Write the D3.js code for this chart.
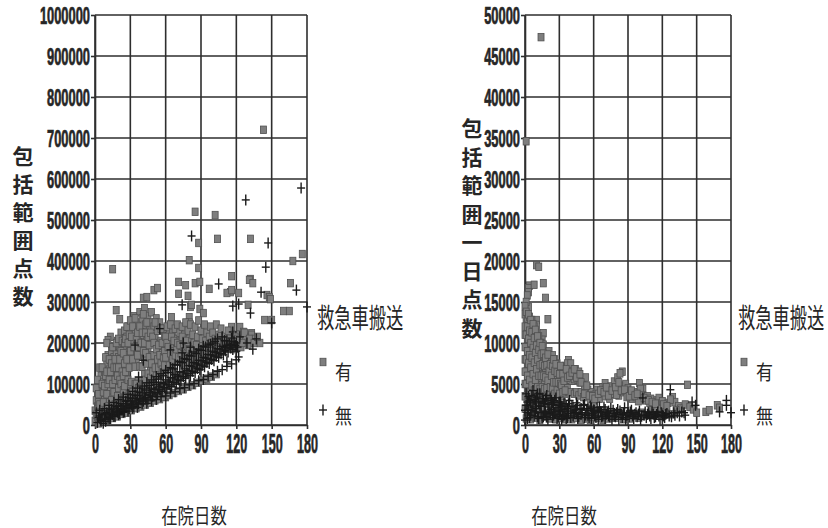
<!DOCTYPE html>
<html><head><meta charset="utf-8">
<script src="https://cdn.jsdelivr.net/npm/d3@7/dist/d3.min.js"></script>
<style>
body{margin:0;background:#fff;}
svg{display:block;}
.num{font-family:"Liberation Sans",Arial,sans-serif;font-weight:bold;fill:#262626;stroke:#262626;stroke-width:0.7px;}
.jp{font-family:"Noto Sans CJK JP",sans-serif;fill:#262626;}
</style></head><body>
<svg id="chart" width="828" height="528"></svg>
<script>
// ---------------- DATA ----------------
const xTicks = [0, 30, 60, 90, 120, 150, 180];
const yTicksTotal = [0,100000,200000,300000,400000,500000,600000,700000,800000,900000,1000000];
const yTicksDaily = [0,5000,10000,15000,20000,25000,30000,35000,40000,45000,50000];
const xTitle = "在院日数";
const yTitleTotal = "包括範囲点数";
const yTitleDaily = "包括範囲一日点数";
const legendTitle = "救急車搬送";
const seriesNames = ["有", "無"];

// Left chart: [在院日数, 包括範囲点数 (thousands)]
const yesTotalK = [
 [143,720],[85,520],[102,512],[88,444],[104,454],[132,454],[176,417],[168,400],[80,402],[15,380],[88,383],
 [116,363],[132,356],[71,349],[77,341],[85,346],[89,349],[97,332],[115,324],[112,322],[116,329],[131,354],
 [134,346],[146,317],[148,312],[149,307],[166,346],[71,320],[79,315],[41,310],[44,312],[50,329],[53,334],
 [130,293],[144,256],[150,256],[160,278],[165,278],[18,280],[21,258],[65,263],[80,263],[80,250],[13,215],
 [11,207],[10,200],[7,139],[122,322],[89,283],[92,273],[81,288],[82,293],[116,239],[123,239],[126,227],[133,224],
 [0,10],[0,35],[1,60],[1,25],[2,80],[2,45],[3,15],[3,100],[4,65],[4,30],[5,120],[5,90],[5,50],[6,20],[6,75],
 [7,105],[8,60],[8,130],[9,95],[9,40],[10,150],[10,115],[11,75],[11,170],[12,135],[12,55],[13,158],[13,95],
 [14,120],[14,180],[15,70],[15,150],[16,165],[16,105],[17,190],[17,130],[18,85],[18,175],[19,145],[19,205],
 [20,110],[20,165],[21,190],[22,135],[22,225],[23,175],[23,95],[24,200],[24,150],[25,120],[25,230],[26,185],
 [26,160],[27,215],[27,105],[28,240],[28,170],[29,195],[30,148],[30,225],[31,250],[31,180],[32,205],[33,163],
 [33,265],[34,230],[35,190],[35,152],[36,250],[37,210],[38,275],[38,170],[39,235],[40,195],[40,260],[41,220],
 [42,160],[42,285],[43,245],[44,205],[45,265],[45,180],[46,230],[47,250],[48,200],[48,275],[49,170],[50,240],
 [51,215],[52,260],[53,190],[54,230],[55,250],[56,205],[57,175],[58,235],[59,215],[60,190],[61,240],[62,160],
 [63,220],[64,245],[65,195],[66,225],[67,180],[68,235],[69,210],[70,245],[71,190],[72,225],[73,205],[74,240],
 [75,175],[76,220],[77,250],[78,195],[79,230],[80,210],[81,245],[82,185],[83,220],[84,200],[85,240],[86,175],
 [87,215],[88,255],[89,195],[90,230],[91,210],[92,185],[93,245],[94,205],[95,225],[96,190],[97,215],[98,240],
 [99,200],[100,225],[101,185],[102,210],[103,245],[104,195],[105,220],[106,205],[107,235],[108,190],[110,215],
 [112,200],[113,230],[115,195],[117,210],[118,185],[120,200],[122,220],[124,190],[126,205],[128,215],[130,195],
 [133,220],[136,210],[140,200],
 [5,8],[8,12],[10,15],[12,20],[15,22],[18,28],[20,30],[22,35],[25,38],[28,42],[30,48],[33,50],[35,55],[38,60],
 [40,62],[43,68],[45,72],[48,75],[50,80],[53,82],[55,88],[58,92],[60,95],[63,100],[65,105],[68,108],[70,112],
 [73,118],[75,122],[78,125],[80,130],[83,135],[85,140],[88,142],[90,148],[93,152],[95,158],[98,162],[100,168],
 [103,172],[105,178],[108,182],[110,188],[113,192],[115,195],[118,200],[120,205],[60,68],
 [30,70],[32,95],[35,80],[37,108],[40,90],[42,125],[45,100],[47,140],[50,115],[52,150],[55,125],[57,160],
 [60,135],[62,170],[65,150],[67,130],[70,160],[72,175],[75,150],[77,185],[80,165],[82,155],[85,180],[87,165],
 [90,175],[92,160],[95,185],[97,175],[100,190],[102,180],[10,45],[12,85],[15,40],[18,110],[20,60],[22,80],
 [25,65],[27,130],[28,90],[24,50],[16,30],[6,40],[3,55],
 [1,90],[2,20],[2,110],[3,75],[4,140],[4,50],[5,30],[6,100],[6,140],[7,55],[7,80],[8,25],[8,95],[9,120],
 [9,165],[10,75],[10,130],[11,45],[11,100],[12,110],[12,160],[13,30],[13,130],[14,60],[14,150],[15,100],
 [15,190],[16,80],[16,140],[17,50],[17,110],[17,160],[18,140],[18,200],[19,70],[19,120],[20,90],[20,140],
 [20,210],[21,50],[21,110],[21,160],[22,100],[22,180],[23,60],[23,130],[23,205],[24,85],[24,120],[24,175],
 [25,95],[25,150],[25,200],[26,70],[26,130],[26,210],[27,160],[27,240],[28,110],[28,200],[29,75],[29,140],
 [29,220],[30,100],[30,180],[30,255],[31,105],[31,215],[32,80],[32,160],[32,240],[33,190],[34,100],[34,142],
 [34,260],[35,210],[35,100],[36,170],[36,225],[37,90],[37,190],[38,143],[38,240],[39,200],[40,142],
 [40,225],[41,100],[41,180],[41,270],[42,200],[43,110],[43,175],[43,225],[44,150],[44,250],[45,125],[45,215],
 [46,165],[46,195],[47,115],[47,225],[48,150],[49,130],[49,215],[50,170],[50,200],[51,140],[51,250],[52,120],
 [52,185],[53,160],[53,230],[54,140],[54,195],[55,170],[56,150],[56,235],[57,135],[57,200],[58,165],[59,180],
 [59,145],[60,165],[60,215],[61,200],[62,190],[63,145],[64,175],[65,215],[66,160],[67,205],[68,170],[69,185],
 [70,200],[71,165],[72,195],[73,175],[74,215],[75,190],[76,165],[77,205],[78,175],[79,190],[80,185],[81,165],
 [83,180],[84,165],[86,195],[88,175],[89,165],[91,180],[93,175],[94,190],[96,170],[99,180],[101,200],[104,185],
 [106,190],[109,200],[111,205],[114,210],[116,200],[119,215],[121,210],[125,200],[127,225],[131,210],[135,200],
 [138,215],
 [3,4],[7,9],[11,12],[15,17],[19,21],[23,27],[27,30],[31,36],[35,41],[39,45],[43,50],[47,54],[51,60],[55,63],
 [59,69],[63,73],[67,78],[71,83],[75,87],[79,93],[83,97],[87,103],[91,108],[95,113],[99,118],[103,124]
];
const noTotalK = [
 [128,549],[175,578],[82,461],[147,444],[145,385],[105,344],[141,324],[171,329],[74,293],[117,290],[122,295],
 [132,273],[150,249],[180,288],[137,210],[123,215],[129,200],[134,185],[122,166],[117,227],[112,154],
 [55,235],[75,200],[34,195],[64,183],[37,117],[41,158],[74,176],[81,190],
 [2,6],[3,18],[5,10],[6,25],[7,4],[9,14],[10,30],[11,19],[13,16],[14,38],[15,26],[17,22],[18,45],[19,31],
 [21,28],[22,52],[23,37],[25,33],[26,58],[27,43],[29,40],[30,66],[31,49],[33,45],[34,73],[35,56],[37,52],
 [38,80],[39,61],[41,58],[42,88],[43,67],[45,63],[46,96],[47,73],[49,70],[50,104],[51,79],[53,76],[54,112],
 [55,86],[57,82],[58,120],[59,91],[61,88],[62,128],[63,98],[65,94],[66,137],[67,104],[69,100],[70,146],
 [71,110],[73,108],[74,152],[75,118],[77,114],[78,160],[79,125],[81,120],[82,168],[83,131],[85,128],[86,174],
 [87,138],[89,135],[90,182],[91,146],[93,142],[94,190],[95,153],[97,150],[98,197],[99,160],[101,157],
 [102,204],[103,168],[105,165],[107,174],[109,171],[110,206],[111,181],[113,178],[115,188],[117,184],
 [119,194],[121,190],
 [1,30],[4,36],[8,40],[12,48],[16,55],[20,62],[24,68],[28,75],[32,82],[36,90],[40,95],[44,103],[48,110],
 [52,118],[56,125],[60,133],[64,140],[68,147],[72,155],[76,162],[80,170],[84,178],[88,185],[92,192],[96,195],
 [100,200],[104,210],[108,215],[112,205],[116,212],[120,200],[4,22],[8,28],[12,34],[16,41],[20,47],[24,52],
 [28,60],[32,65],[36,72],[40,78],[44,85],[48,90],[52,98],[56,104],[60,110],[64,116],[68,123],[72,130],
 [76,137],[80,145],[84,152],[88,158],[92,165],[96,172],[100,180],[104,186],[108,192],[112,194],[116,196],[120,180],
 [5,12],[9,9],[12,15],[16,21],[20,25],[24,31],[28,34],[32,41],[36,43],[40,51],[44,53],[48,59],[52,62],[56,69],
 [60,71],[64,78],[68,81],[72,89],[76,91],[80,98],[84,101],[88,108],[92,111],[96,119],[100,123],[104,131],
 [108,135],[112,143],[116,149],[120,159],
 [14,27],[18,34],[22,39],[26,47],[30,51],[34,59],[38,65],[42,73],[46,79],[50,87],[54,93],[58,101],[62,105],
 [66,115],[70,119],[74,129],[78,133],[82,143],[86,149],[90,157],[94,163],[98,171],[102,177],[106,185],
 [110,189],[114,197],[118,203]
];

// Right chart: [在院日数, 包括範囲一日点数]
const yesDaily = [
 [14,47300],[1,34600],[10,19500],[12,19300],[4,17000],[3,16700],[8,17100],[16,17300],[18,15500],[20,12900],
 [3,16200],[2,15800],[3,14400],[10,12800],[10,12200],[16,11200],[15,10400],[38,7900],[85,6500],[100,5100],
 [142,4900],[158,1600],[161,1800],[168,2400],[170,2100],[129,3400],[131,2800],[115,3000],[117,3300],[103,4400],
 [0,2000],[0,5000],[0,8000],[0,11000],[0,13500],[1,3500],[1,6500],[1,9500],[1,12500],[1,15000],[2,1200],
 [2,4500],[2,7500],[2,10500],[2,13000],[3,2500],[3,6000],[3,9000],[3,12000],[4,4000],[4,7000],[4,10000],
 [4,13200],[5,1800],[5,5500],[5,8500],[5,11500],[6,3000],[6,6500],[6,9800],[6,12800],[7,4500],[7,7800],
 [7,11000],[8,2200],[8,6000],[8,9000],[8,12000],[9,3800],[9,7200],[9,10500],[10,5200],[10,8200],[10,11200],
 [11,2500],[11,6500],[11,9500],[12,4200],[12,7500],[12,10800],[13,3000],[13,5800],[13,8800],[14,4800],
 [14,7000],[14,10000],[15,2600],[15,6200],[15,8500],[16,4200],[16,7500],[16,9800],[17,3200],[17,5500],
 [17,8800],[18,4500],[18,7000],[19,2800],[19,6000],[19,8500],[20,3800],[20,7500],[21,5200],[21,9000],
 [22,3000],[22,6500],[22,8200],[23,4500],[23,7200],[24,5800],[24,8500],[25,3500],[25,6800],[26,5000],
 [26,8000],[27,4000],[27,6200],[28,5500],[28,7500],[29,3800],[29,6800],[30,5000],[30,7000],[31,4200],
 [31,6000],[32,3500],[32,6800],[33,5200],[34,4000],[34,6500],[35,5500],[35,7200],[36,3800],[36,6000],
 [37,4500],[37,7500],[38,5800],[39,4000],[39,6800],[40,7500],[41,5400],[42,6200],[43,3800],[43,5600],
 [44,6800],[45,4000],[46,5800],[47,3600],[47,6500],[48,5200],[49,4000],[50,5600],[51,3400],[52,4800],
 [53,5800],[54,3800],[55,4300],[57,3200],[58,4000],[60,3000],[62,3800],[63,4300],[65,3200],[67,3900],
 [68,4600],[70,3500],[70,5100],[72,4200],[74,3200],[75,4700],[77,3800],[78,5300],[80,4300],[81,5800],
 [82,3600],[83,6300],[84,4800],[86,4000],[88,5000],[89,3400],[90,4500],[92,3800],[94,3200],[95,4000],
 [97,3400],[99,2900],[101,4400],[103,3600],[105,3000],[107,3500],[109,2700],[110,3200],[112,2500],[119,2600],
 [120,2900],[122,2200],[125,2700],[127,3100],[134,2300],[136,2000],[140,2500],[144,2200],[147,1900],[150,1500],
 [1,800],[3,1400],[5,700],[7,1900],[9,900],[11,1500],[13,600],[15,1800],[17,1000],[19,1400],[21,800],
 [23,1700],[25,1100],[27,700],[29,1500],[31,900],[33,1200],[35,700],[37,1600],[39,1000],[41,700],[43,1300],
 [45,900],[47,1500],[49,600],[51,1100],[53,800],[55,1400],[57,600],[59,1000],[62,1500],[64,900],[66,1300],
 [68,600],[71,1100],[73,800],[76,1200],[79,900],[83,1400],[86,700],[89,1100],[92,800],[95,1300],[99,900],
 [102,1500],[106,1200],[110,1800],[113,1400],[118,1900],[123,1600],[128,1300],[132,1800],
 [0,3500],[0,6500],[0,9500],[0,12000],[0,14500],[1,5000],[1,8000],[1,11000],[1,13800],[2,3000],[2,6000],
 [2,9000],[2,12000],[3,4000],[3,7500],[3,10500],[3,13500],[4,2500],[4,5500],[4,8500],[4,11500],[5,4000],
 [5,7000],[5,10000],[5,12800],[6,4800],[6,8200],[6,11300],[7,3000],[7,6200],[7,9400],[7,12300],[8,4200],
 [8,7600],[8,10600],[9,5500],[9,8800],[9,11600],[10,3500],[10,6800],[10,9700],[11,4600],[11,8000],[11,10800],
 [12,2800],[12,6000],[12,9200],[13,4400],[13,7300],[13,10000],[14,3200],[14,6000],[14,8600],[15,4600],
 [15,7400],[15,9600],[16,3000],[16,6000],[16,8700],[17,4400],[17,7200],[18,3200],[18,5800],[18,8200],
 [19,4500],[19,7300],[20,5400],[20,8600],[21,3600],[21,6600],[22,4600],[22,7400],[23,3200],[23,6000],
 [24,4500],[24,7200],[25,5200],[25,8000],[26,3800],[26,6600],[27,5200],[27,7400],[28,4200],[28,6400],
 [29,5200],[30,3800],[30,6200],[31,5000],[31,7200],[32,4800],[33,4000],[33,6200],[34,5400],[35,4200],
 [36,6800],[37,5800],[39,6000],[41,6400],[43,6800],[45,5800],[48,6200],[49,5200],
 [52,3800],[54,4800],[56,3600],[59,3500],[61,3200],[64,3800],[66,4200],[69,4000],[71,4600],[73,3600],
 [76,4200],[79,4600],[80,3700],[82,5200],[84,4200],[87,4300],[91,3500],[93,4200],[96,3600],[98,3800],
 [104,3300],[108,3000],[111,2800],[114,2600],[121,2500],[124,2300]
];
const noDaily = [
 [0,600],[1,2400],[2,1500],[3,3500],[4,900],[5,2700],[6,1800],[7,4200],[8,1100],[9,2900],[10,2000],[11,3800],
 [12,800],[13,2300],[14,1500],[15,3200],[16,1000],[17,2600],[18,1700],[19,3600],[20,700],[21,2200],[22,1400],
 [23,3000],[24,900],[25,2500],[26,1600],[27,3300],[28,800],[29,2100],[30,1300],[31,2800],[32,700],[33,1900],
 [34,1200],[35,2600],[36,800],[37,2000],[38,1400],[39,3000],[40,900],[42,2200],[43,1500],[45,2700],[46,800],
 [48,1900],[49,1300],[51,2400],[52,900],[54,1800],[55,1200],[57,2300],[58,800],[60,1700],[61,1100],[63,2100],
 [64,700],[66,1600],[67,1000],[69,2200],[70,800],[72,1500],[73,1100],[75,2000],[76,700],[78,1400],[79,1000],
 [81,1900],[82,700],[84,1300],[85,900],[87,2100],[88,700],[90,1500],[91,1000],[93,1800],[95,800],[96,1300],
 [98,1000],[100,1700],[101,700],[103,3300],[104,1200],[106,900],[108,1500],[110,800],[112,1300],[114,1000],
 [116,1600],[118,700],[120,1200],[122,900],[124,1400],[127,4300],[128,1000],[130,1500],[133,1500],[135,1100],
 [137,1600],[140,1200],[146,2800],[149,2400],[170,1600],[176,3000],[176,2400],[180,1500],
 [0,1800],[1,3800],[2,800],[2,2800],[3,1900],[4,3000],[5,1200],[6,3600],[7,2200],[8,3100],[9,1600],[10,3400],
 [11,1000],[12,2700],[13,3800],[14,2300],[15,900],[16,2900],[17,1600],[18,3200],[19,1000],[20,2500],[21,1500],
 [22,3300],[23,1900],[24,2700],[25,1200],[26,3000],[27,1700],[28,2400],[29,1000],[30,2800],[31,1700],
 [32,2300],[33,1000],[34,2600],[35,1600],[36,2300],[37,900],[38,2600],[40,1700],[41,2300],[42,1100],
 [44,1900],[45,1400],[46,2400],[47,1000],[49,2000],[50,1500],[52,2500],[53,1200],[55,2000],[56,900],
 [58,2100],[59,1400],[61,1800],[62,900],[64,1600],[65,2200],[67,1500],[68,1100],[70,1900],[71,1300],
 [73,1700],[74,1000],[77,1800],[78,1100],[80,1500],[83,1700],[86,1400],[89,1200],[92,1600],[94,1100],
 [97,1500],[99,1300],[102,1100],[105,1600],[107,1300],[109,1100],[111,1600],[113,900],[115,1300],[117,1100],
 [119,1500],[121,1100],[123,1300],[126,1100],[131,1200],[139,1500]
];

// ---------------- DRAW ----------------
const svg = d3.select("#chart");
const INK = "#2e2e2e";

function drawYes(g, pts, x, y) {
  g.selectAll("rect.yes").data(pts).join("rect").attr("class","yes")
    .attr("x", d => x(d[0]) - 3).attr("y", d => y(d[1]) - 3.75)
    .attr("width", 6).attr("height", 7.5)
    .attr("fill", "#7e7e7e").attr("stroke", "#505050").attr("stroke-width", 0.8);
}
function drawNo(g, pts, x, y) {
  const sel = g.selectAll("g.no").data(pts).join("g").attr("class","no")
    .attr("transform", d => `translate(${x(d[0])},${y(d[1])})`);
  sel.append("line").attr("x1",-4).attr("x2",4).attr("y1",0).attr("y2",0);
  sel.append("line").attr("x1",0).attr("x2",0).attr("y1",-5.5).attr("y2",5.5);
  sel.selectAll("line").attr("stroke", "#1a1a1a").attr("stroke-width", 1.4);
}
// horizontally condensed text
function ctext(g, txt, x, y, size, sx, anchor, cls, weight) {
  return g.append("text").attr("class", cls)
    .attr("transform", `translate(${x},${y}) scale(${sx},1)`)
    .attr("text-anchor", anchor).attr("dominant-baseline", "central")
    .attr("font-size", size).attr("font-weight", weight || null).text(txt);
}

function panel(opts) {
  const {x, y, yTicks, yes, no, yTitle, yTitleX, yTitleY0, yTitleStep, legX, xTitleX} = opts;
  const g = svg.append("g");
  const [x0, x1] = x.range(), [y0, y1] = y.range();

  // grid
  g.selectAll("line.gx").data(xTicks).join("line").attr("class","gx")
    .attr("x1", d => x(d)).attr("x2", d => x(d)).attr("y1", y1).attr("y2", y0)
    .attr("stroke", INK).attr("stroke-width", 1.6);
  g.selectAll("line.gy").data(yTicks).join("line").attr("class","gy")
    .attr("x1", x0).attr("x2", x1).attr("y1", d => y(d)).attr("y2", d => y(d))
    .attr("stroke", INK).attr("stroke-width", 1.6);

  // axes (ticks + labels)
  const ySX = 0.56, xSX = 0.45;
  const ay = g.append("g").attr("transform", `translate(${x0},0)`)
    .call(d3.axisLeft(y).tickValues(yTicks).tickSize(4).tickSizeOuter(0).tickFormat(d3.format("d")));
  ay.select(".domain").attr("stroke", INK).attr("stroke-width", 1.6);
  ay.selectAll(".tick line").attr("stroke", INK).attr("stroke-width", 1.6);
  ay.selectAll(".tick text").attr("class","num").attr("font-size", 23)
    .attr("x", -5 / ySX).attr("dy", "0.36em").attr("transform", `scale(${ySX},1)`);

  const ax = g.append("g").attr("transform", `translate(0,${y0})`)
    .call(d3.axisBottom(x).tickValues(xTicks).tickSize(4).tickSizeOuter(0).tickFormat(d3.format("d")));
  ax.select(".domain").attr("stroke", INK).attr("stroke-width", 1.6);
  ax.selectAll(".tick line").attr("stroke", INK).attr("stroke-width", 1.6);
  ax.selectAll(".tick text").attr("class","num").attr("font-size", 28)
    .attr("y", 8).attr("dy", "0.72em").attr("transform", `scale(${xSX},1)`);

  // points
  drawYes(g.append("g"), yes, x, y);
  drawNo(g.append("g"), no, x, y);

  // y title (vertical, stacked)
  g.append("g").selectAll("text").data(Array.from(yTitle)).join("text")
    .attr("class","jp").attr("x", yTitleX).attr("y", (d,i) => yTitleY0 + i*yTitleStep)
    .attr("text-anchor","middle").attr("dominant-baseline","central")
    .attr("font-size", 21).attr("font-weight", "bold").text(d => d);

  // x title
  ctext(g, xTitle, xTitleX, 514, 21, 0.78, "middle", "jp");

  // legend
  const lg = g.append("g");
  ctext(lg, legendTitle, legX, 317, 27, 0.64, "start", "jp");
  drawYes(lg.append("g"), [[0,0]], () => legX + 6, () => 362);
  drawNo(lg.append("g"), [[0,0]], () => legX + 6, () => 410);
  ctext(lg, seriesNames[0], legX + 18, 371, 20, 0.85, "start", "jp");
  ctext(lg, seriesNames[1], legX + 18, 415, 20, 0.85, "start", "jp");
}

const xL = d3.scaleLinear().domain([0,180]).range([95,307]);
const yL = d3.scaleLinear().domain([0,1000000]).range([425,15]);
panel({x: xL, y: yL, yTicks: yTicksTotal,
  yes: yesTotalK.map(d => [d[0], d[1]*1000]), no: noTotalK.map(d => [d[0], d[1]*1000]),
  yTitle: yTitleTotal, yTitleX: 23, yTitleY0: 155, yTitleStep: 28, legX: 317, xTitleX: 194});

const xR = d3.scaleLinear().domain([0,180]).range([525,731]);
const yR = d3.scaleLinear().domain([0,50000]).range([425,15]);
panel({x: xR, y: yR, yTicks: yTicksDaily, yes: yesDaily, no: noDaily,
  yTitle: yTitleDaily, yTitleX: 472, yTitleY0: 127, yTitleStep: 28.5, legX: 738, xTitleX: 564});
</script>
</body></html>
